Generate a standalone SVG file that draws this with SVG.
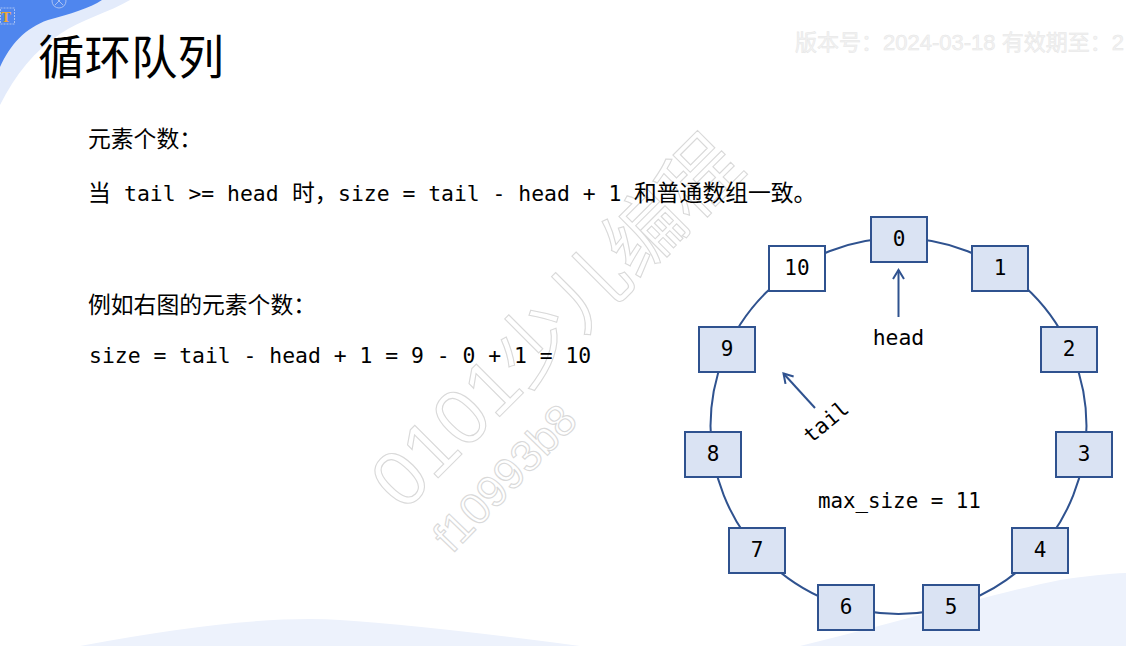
<svg xmlns="http://www.w3.org/2000/svg" width="1126" height="646" viewBox="0 0 1126 646">
  <style>
    .cjk { font-family: "Noto Sans CJK SC", "Noto Sans", sans-serif; fill: #000; }
    .mono { font-family: "DejaVu Sans Mono", "Liberation Mono", monospace; fill: #000; }
    .body { font-size: 22.8px; }
    .code { font-size: 21.4px; }
    .box { fill: #dae3f3; stroke: #2f528f; stroke-width: 2; }
    .box.empty { fill: #ffffff; }
    .lbl { font-family: "DejaVu Sans Mono", "Liberation Mono", monospace; font-size: 21px; fill: #000; text-anchor: middle; }
    .wm { fill: none; stroke: #d9d9d9; stroke-width: 1.1; font-family: "Liberation Sans", "Noto Sans CJK SC", sans-serif; }
    .conn { fill: none; stroke: #2f528f; stroke-width: 2; }
  </style>
  <defs>
    <marker id="open" markerUnits="userSpaceOnUse" markerWidth="14" markerHeight="14" refX="11" refY="7" orient="auto">
      <path d="M2,1.5 L11,7 L2,12.5" fill="none" stroke="#2f528f" stroke-width="2"/>
    </marker>
  </defs>

  <!-- background -->
  <rect width="1126" height="646" fill="#ffffff"/>
  <g id="background">
    <path d="M0,0 L130,0 C110,12 80,20 60,34 C35,50 15,75 0,105 Z" fill="#e3ebfb"/>
    <path d="M0,0 L102,0 C90,8 70,14 48,20 C25,28 10,45 0,67 Z" fill="#4f86ee"/>
    <rect x="0.5" y="8" width="14" height="16" fill="none" stroke="#a9c1f2" stroke-width="1" stroke-dasharray="2,1"/>
    <text x="1" y="22" font-family="Liberation Serif, serif" font-size="15" font-weight="bold" fill="#f0a830">T</text>
    <circle cx="59" cy="1" r="7" fill="none" stroke="#a9c1f2" stroke-width="1"/>
    <path d="M55,-3 L63,5 M63,-3 L55,5" stroke="#a9c1f2" stroke-width="1"/>
    <path d="M80,646 Q250,614 340,620 Q430,626 580,646 Z" fill="#edf2fc"/>
    <path d="M800,646 C900,622 990,594 1060,580 Q1100,574 1126,573 L1126,646 Z" fill="#edf2fc"/>
  </g>

  <!-- watermarks -->
  <g id="watermark">
    <text x="795" y="50" font-size="22" font-family="Liberation Sans, Noto Sans CJK SC, sans-serif" fill="#f3f3f3" stroke="#e6e6e6" stroke-width="0.5">版本号：2024-03-18 有效期至：2</text>
    <text class="wm" font-size="78" text-anchor="middle" transform="translate(556,322) rotate(-45)" y="27">0101少儿编程</text>
    <text class="wm" font-size="44" text-anchor="middle" transform="translate(505,478) rotate(-46)" y="15">f10993b8</text>
  </g>

  <!-- title -->
  <text id="title" class="cjk" x="38" y="74" font-size="46.5">循环队列</text>

  <!-- left text -->
  <g id="text-left">
    <text class="cjk body" x="88" y="147">元素个数：</text>
    <text class="cjk body" x="88" y="201">当</text>
    <text class="mono code" x="124" y="201">tail &gt;= head</text>
    <text class="cjk body" x="292" y="201">时，</text>
    <text class="mono code" x="338" y="201">size = tail - head + 1</text>
    <text class="cjk body" x="634" y="201">和普通数组一致。</text>
    <text class="cjk body" x="88" y="313">例如右图的元素个数：</text>
    <text class="mono code" x="89" y="363">size = tail - head + 1 = 9 - 0 + 1 = 10</text>
  </g>

  <!-- connectors -->
  <g id="connectors">
    <circle class="conn" cx="898.5" cy="426" r="188"/>
    <line class="conn" x1="898.5" y1="317" x2="898.5" y2="270" marker-end="url(#open)"/>
    <line class="conn" x1="815" y1="408" x2="783.5" y2="373.5" marker-end="url(#open)"/>
  </g>

  <!-- nodes -->
  <g id="node-0"><rect class="box" x="871" y="217" width="56" height="45"/><text class="lbl" x="899" y="246">0</text></g>
  <g id="node-1"><rect class="box" x="972" y="246" width="56" height="45"/><text class="lbl" x="1000" y="275">1</text></g>
  <g id="node-2"><rect class="box" x="1041" y="327" width="56" height="45"/><text class="lbl" x="1069" y="356">2</text></g>
  <g id="node-3"><rect class="box" x="1056" y="432" width="56" height="45"/><text class="lbl" x="1084" y="461">3</text></g>
  <g id="node-4"><rect class="box" x="1012" y="528" width="56" height="45"/><text class="lbl" x="1040" y="557">4</text></g>
  <g id="node-5"><rect class="box" x="923" y="585" width="56" height="45"/><text class="lbl" x="951" y="614">5</text></g>
  <g id="node-6"><rect class="box" x="818" y="585" width="56" height="45"/><text class="lbl" x="846" y="614">6</text></g>
  <g id="node-7"><rect class="box" x="729" y="528" width="56" height="45"/><text class="lbl" x="757" y="557">7</text></g>
  <g id="node-8"><rect class="box" x="685" y="432" width="56" height="45"/><text class="lbl" x="713" y="461">8</text></g>
  <g id="node-9"><rect class="box" x="699" y="327" width="56" height="45"/><text class="lbl" x="727" y="356">9</text></g>
  <g id="node-10"><rect class="box empty" x="769" y="246" width="56" height="45"/><text class="lbl" x="797" y="275">10</text></g>

  <!-- labels -->
  <g id="labels">
    <text class="mono code" x="898.5" y="345" text-anchor="middle">head</text>
    <text class="mono code" transform="translate(811,444) rotate(-40)">tail</text>
    <text class="mono" font-size="20.8" x="818" y="508">max_size = 11</text>
  </g>
</svg>
